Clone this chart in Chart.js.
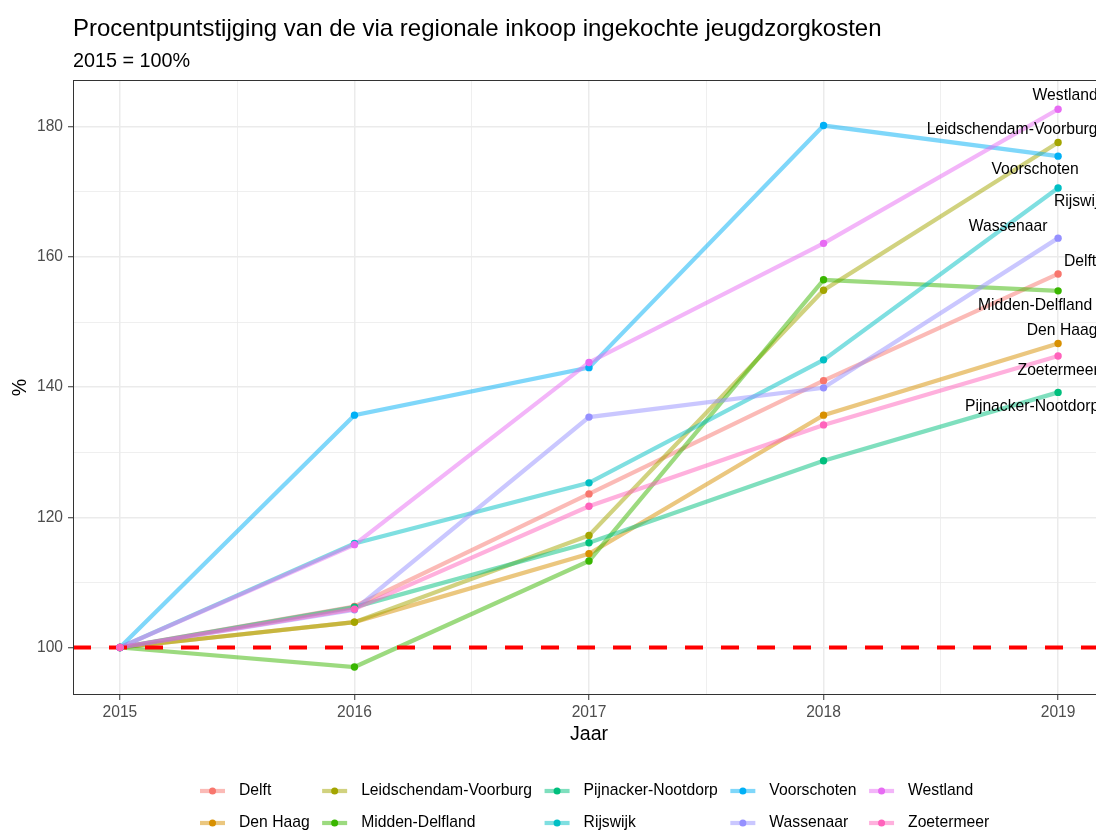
<!DOCTYPE html>
<html>
<head>
<meta charset="utf-8">
<script src="https://cdn.jsdelivr.net/npm/chart.js@4"></script>
<style>
  html, body { margin: 0; padding: 0; background: #fff; overflow: hidden; }
  #wrap { width: 1096px; height: 830px; overflow: hidden; }
</style>
</head>
<body>
<div id="wrap"><canvas id="lineChart" width="1120" height="830"></canvas></div>
<script>
// data (2015 = 100%)
const years = [2015, 2016, 2017, 2018, 2019];
const gemeenten = ['Delft', 'Den Haag', 'Leidschendam-Voorburg', 'Midden-Delfland', 'Pijnacker-Nootdorp',
                   'Rijswijk', 'Voorschoten', 'Wassenaar', 'Westland', 'Zoetermeer'];
const delft = [100, 106.3, 123.6, 141.0, 157.4];
const denHaag = [100, 103.9, 114.4, 135.7, 146.7];
const leidschendamVoorburg = [100, 103.9, 117.2, 154.9, 177.6];
const middenDelfland = [100, 97.0, 113.3, 156.5, 154.8];
const pijnackerNootdorp = [100, 106.2, 116.1, 128.7, 139.2];
const rijswijk = [100, 116.0, 125.3, 144.2, 170.6];
const voorschoten = [100, 135.7, 143.0, 180.2, 175.5];
const wassenaar = [100, 105.8, 135.4, 139.9, 162.9];
const westland = [100, 115.8, 143.8, 162.1, 182.7];
const zoetermeer = [100, 105.9, 121.7, 134.2, 144.8];
const reeksen = [delft, denHaag, leidschendamVoorburg, middenDelfland, pijnackerNootdorp,
                 rijswijk, voorschoten, wassenaar, westland, zoetermeer];
const referentie = 100;
const yTickLabels = [100, 120, 140, 160, 180];

const titel = 'Procentpuntstijging van de via regionale inkoop ingekochte jeugdzorgkosten';
const ondertitel = '2015 = 100%';

// ggplot hue palette
const kleuren = ['#F8766D', '#D89000', '#A3A500', '#39B600', '#00BF7D',
                 '#00BFC4', '#00B0F6', '#9590FF', '#E76BF3', '#FF62BC'];
// where the end labels sit relative to the last point (px)
const labelShift = {
    'Westland': [7, -14], 'Leidschendam-Voorburg': [-46, -13], 'Voorschoten': [-23, 14],
    'Rijswijk': [22, 14], 'Wassenaar': [-50, -11], 'Delft': [22, -12],
    'Midden-Delfland': [-23, 15], 'Den Haag': [4, -13], 'Zoetermeer': [0, 15],
    'Pijnacker-Nootdorp': [-26, 14]
};

const FONT = "'Liberation Sans', Arial, Helvetica, sans-serif";
const X_MIN = 2014.8, X_MAX = 2019.2, Y_MIN = 92.7, Y_MAX = 187.2;

function rgba(hex, a) {
    const n = parseInt(hex.slice(1), 16);
    return 'rgba(' + (n >> 16) + ',' + ((n >> 8) & 255) + ',' + (n & 255) + ',' + a + ')';
}
function punten(serie) {
    return years.map((jaar, j) => ({ x: jaar, y: serie[j] }));
}

const xGrid = [];
years.forEach((y, i) => { xGrid.push(y); if (i < years.length - 1) xGrid.push(y + 0.5); });
const yGrid = [];
yTickLabels.forEach((v, i) => { yGrid.push(v); if (i < yTickLabels.length - 1) yGrid.push(v + 10); });

const lijnen = gemeenten.map((g, i) => ({
    label: g,
    data: punten(reeksen[i]),
    borderColor: rgba(kleuren[i], 0.5),
    borderWidth: 4.2,
    pointRadius: 0,
    tension: 0,
    fill: false,
    order: 50 - i
}));
const stippen = gemeenten.map((g, i) => ({
    label: g + ' punten',
    data: punten(reeksen[i]),
    showLine: false,
    pointRadius: 3.7,
    pointBorderWidth: 0,
    pointBackgroundColor: kleuren[i],
    order: 20 - i
}));
const basislijn = {
    label: 'referentie',
    data: [{ x: X_MIN, y: referentie }, { x: X_MAX, y: referentie }],
    borderColor: '#FF0000',
    borderWidth: 4,
    borderDash: [18, 18],
    borderCapStyle: 'butt',
    pointRadius: 0,
    order: 30
};

const versiering = {
    id: 'versiering',
    afterDatasetsDraw(chart) {
        const { ctx, chartArea: a, scales } = chart;
        ctx.save();
        ctx.strokeStyle = '#333333';
        ctx.lineWidth = 1;
        ctx.strokeRect(a.left + 0.5, a.top + 0.5, a.right - a.left - 1, a.bottom - a.top - 1);

        // end labels
        ctx.font = '15.7px ' + FONT;
        ctx.fillStyle = '#000';
        ctx.textAlign = 'center';
        ctx.textBaseline = 'middle';
        const last = years.length - 1;
        gemeenten.forEach((g, i) => {
            const px = scales.x.getPixelForValue(years[last]);
            const py = scales.y.getPixelForValue(reeksen[i][last]);
            const s = labelShift[g];
            ctx.fillText(g, px + s[0], py + s[1]);
        });
        ctx.restore();
    },
    afterDraw(chart) {
        const ctx = chart.ctx;
        ctx.save();
        ctx.fillStyle = '#000';
        ctx.textAlign = 'left';
        ctx.textBaseline = 'alphabetic';
        ctx.font = '24px ' + FONT;
        ctx.fillText(titel, 73, 36);
        ctx.font = '19.8px ' + FONT;
        ctx.fillText(ondertitel, 73, 67);

        // legend, 2 rows filled column by column
        ctx.font = '15.7px ' + FONT;
        ctx.textBaseline = 'middle';
        const rijY = [791, 823];
        let x = 200;
        for (let c = 0; c < Math.ceil(gemeenten.length / 2); c++) {
            let breed = 0;
            for (let r = 0; r < 2; r++) {
                const i = c * 2 + r;
                if (i >= gemeenten.length) continue;
                const y = rijY[r];
                ctx.strokeStyle = rgba(kleuren[i], 0.5);
                ctx.lineWidth = 4.2;
                ctx.beginPath();
                ctx.moveTo(x, y);
                ctx.lineTo(x + 25, y);
                ctx.stroke();
                ctx.fillStyle = kleuren[i];
                ctx.beginPath();
                ctx.arc(x + 12.5, y, 3.5, 0, Math.PI * 2);
                ctx.fill();
                ctx.fillStyle = '#000';
                ctx.fillText(gemeenten[i], x + 39, y);
                breed = Math.max(breed, ctx.measureText(gemeenten[i]).width);
            }
            x += 39 + breed + 12.5;
        }
        ctx.restore();
    }
};

const tickFont = { family: FONT, size: 15.6 };
const titleFont = { family: FONT, size: 19.6 };

new Chart(document.getElementById('lineChart'), {
    type: 'line',
    data: { datasets: [...lijnen, basislijn, ...stippen] },
    options: {
        responsive: false,
        animation: false,
        devicePixelRatio: 1,
        layout: { padding: { top: 80, left: 0, right: 15, bottom: 80 } },
        plugins: {
            legend: { display: false },
            tooltip: { enabled: false },
            title: { display: false }
        },
        scales: {
            x: {
                type: 'linear',
                min: X_MIN,
                max: X_MAX,
                afterBuildTicks: s => { s.ticks = xGrid.map(v => ({ value: v })); },
                afterFit: s => { s.height = 55; },
                ticks: {
                    autoSkip: false,
                    maxRotation: 0,
                    padding: 3,
                    color: '#4D4D4D',
                    font: tickFont,
                    callback: v => Number.isInteger(v) ? String(v) : ''
                },
                grid: {
                    color: '#EBEBEB',
                    lineWidth: c => Number.isInteger(c.tick.value) ? 1.5 : 0.8,
                    tickColor: c => Number.isInteger(c.tick.value) ? '#333333' : 'rgba(0,0,0,0)',
                    tickLength: 5,
                    tickWidth: 1
                },
                border: { display: false },
                title: { display: true, text: 'Jaar', color: '#000', font: titleFont, padding: { top: 0, bottom: 4 } }
            },
            y: {
                type: 'linear',
                min: Y_MIN,
                max: Y_MAX,
                afterBuildTicks: s => { s.ticks = yGrid.map(v => ({ value: v })); },
                afterFit: s => { s.width = 73; },
                ticks: {
                    padding: 5,
                    color: '#4D4D4D',
                    font: tickFont,
                    callback: v => yTickLabels.includes(v) ? String(v) : ''
                },
                grid: {
                    color: '#EBEBEB',
                    lineWidth: c => yTickLabels.includes(c.tick.value) ? 1.5 : 0.8,
                    tickColor: c => yTickLabels.includes(c.tick.value) ? '#333333' : 'rgba(0,0,0,0)',
                    tickLength: 5,
                    tickWidth: 1
                },
                border: { display: false },
                title: { display: true, text: '%', color: '#000', font: titleFont, padding: { top: 9, bottom: 0 } }
            }
        }
    },
    plugins: [versiering]
});
</script>
</body>
</html>
